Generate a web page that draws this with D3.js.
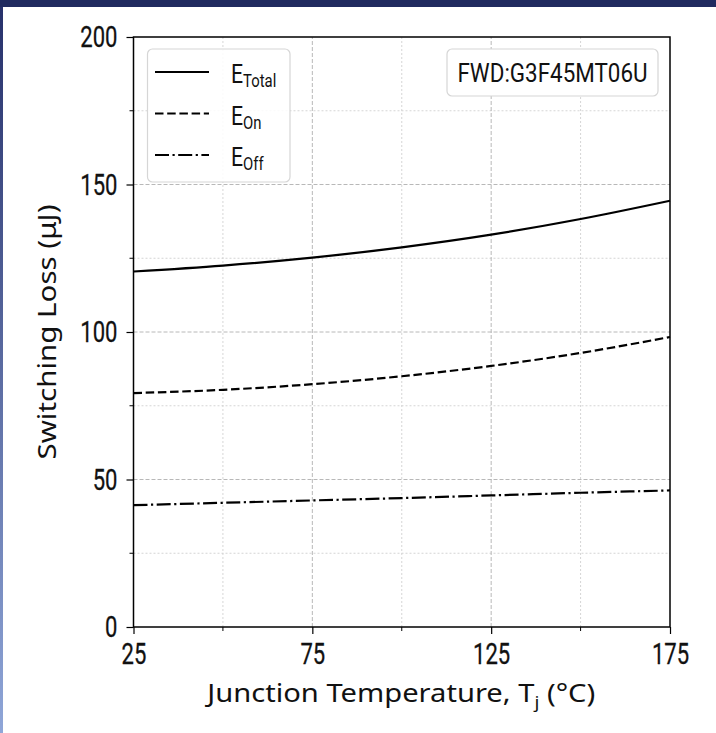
<!DOCTYPE html>
<html>
<head>
<meta charset="utf-8">
<script src="https://cdn.jsdelivr.net/npm/d3@7"></script>
<style>
  html, body { margin: 0; padding: 0; background: #fff; }
  svg { display: block; }
</style>
</head>
<body>
<div id="chart"></div>
<script>
// data
const temps = [25, 50, 75, 100, 125, 150, 175];
const eTotal = [120.5, 122.5, 125.2, 128.7, 133.0, 138.3, 144.5];
const eOn = [79.3, 80.4, 82.3, 85.0, 88.5, 92.9, 98.3];
const eOff = [41.3, 42.1, 42.9, 43.7, 44.6, 45.5, 46.3];
const xTicks = [25, 75, 125, 175];
const xMinor = [50, 100, 150];
const yTicks = [0, 50, 100, 150, 200];
const yMinor = [25, 75, 125, 175];
const legendNames = [["E", "Total"], ["E", "On"], ["E", "Off"]];
const partLabel = "FWD:G3F45MT06U";

const W = 716, H = 733;
const margin = { top: 37, right: 46, bottom: 106, left: 133.5 };
const cond = "Roboto, 'Liberation Sans', sans-serif";
const digitW = 12.4; // width of one digit in the condensed tick font

const svg = d3.select("#chart").append("svg")
  .attr("width", W).attr("height", H);

// frame: dark band on top, thin blue edge on the left
const defs = svg.append("defs");
const grad = defs.append("linearGradient").attr("id", "edge")
  .attr("x1", 0).attr("y1", 0).attr("x2", 0).attr("y2", 1);
grad.append("stop").attr("offset", "0%").attr("stop-color", "#26306a");
grad.append("stop").attr("offset", "100%").attr("stop-color", "#8fa6d8");
svg.append("rect").attr("x", 0).attr("y", 0).attr("width", 3).attr("height", H).attr("fill", "url(#edge)");
svg.append("rect").attr("x", 0).attr("y", 0).attr("width", W).attr("height", 7).attr("fill", "#202a5f");

const x = d3.scaleLinear().domain([25, 175]).range([margin.left, W - margin.right]);
const y = d3.scaleLinear().domain([0, 200]).range([H - margin.bottom, margin.top]);

const g = svg.append("g");

// grid
g.append("g").selectAll("line").data(xMinor).join("line")
  .attr("x1", d => x(d)).attr("x2", d => x(d))
  .attr("y1", y(0)).attr("y2", y(200))
  .attr("stroke", "#d0d0d0").attr("stroke-width", 0.9).attr("stroke-dasharray", "2,2");
g.append("g").selectAll("line").data(yMinor).join("line")
  .attr("y1", d => y(d)).attr("y2", d => y(d))
  .attr("x1", x(25)).attr("x2", x(175))
  .attr("stroke", "#d0d0d0").attr("stroke-width", 0.9).attr("stroke-dasharray", "2,2");
g.append("g").selectAll("line").data(xTicks.slice(1, -1)).join("line")
  .attr("x1", d => x(d)).attr("x2", d => x(d))
  .attr("y1", y(0)).attr("y2", y(200))
  .attr("stroke", "#b0b0b0").attr("stroke-width", 0.9).attr("stroke-dasharray", "4,2");
g.append("g").selectAll("line").data(yTicks.slice(1, -1)).join("line")
  .attr("y1", d => y(d)).attr("y2", d => y(d))
  .attr("x1", x(25)).attr("x2", x(175))
  .attr("stroke", "#b0b0b0").attr("stroke-width", 0.9).attr("stroke-dasharray", "4,2");

// series
const series = [
  { vals: eTotal, dash: null },
  { vals: eOn, dash: "8.5,3.7" },
  { vals: eOff, dash: "14,3.5,2.2,3.5" }
];
const line = d3.line().curve(d3.curveMonotoneX)
  .x((d, i) => x(temps[i])).y(d => y(d));
g.append("g").selectAll("path").data(series).join("path")
  .attr("d", d => line(d.vals))
  .attr("fill", "none").attr("stroke", "#000").attr("stroke-width", 2.2)
  .attr("stroke-dasharray", d => d.dash);

// axes
const xAxis = d3.axisBottom(x).tickValues(xTicks).tickSize(7).tickPadding(9);
const yAxis = d3.axisLeft(y).tickValues(yTicks).tickSize(7).tickPadding(9);

function styleTicks(sel) {
  sel.selectAll(".tick line").attr("stroke", "#000").attr("stroke-width", 1.2);
  sel.selectAll(".tick text")
    .attr("font-family", cond).attr("font-size", 30).attr("fill", "#111")
    .attr("stroke", "#111").attr("stroke-width", 0.3)
    .attr("textLength", d => String(d).length * digitW)
    .attr("lengthAdjust", "spacingAndGlyphs");
}

const gx = svg.append("g").attr("transform", `translate(0,${y(0)})`).call(xAxis);
styleTicks(gx);
gx.append("g").selectAll("line").data(xMinor).join("line")
  .attr("x1", d => x(d)).attr("x2", d => x(d)).attr("y1", 0).attr("y2", 4)
  .attr("stroke", "#000").attr("stroke-width", 1);

const gy = svg.append("g").attr("transform", `translate(${x(25)},0)`).call(yAxis);
styleTicks(gy);
gy.append("g").selectAll("line").data(yMinor).join("line")
  .attr("y1", d => y(d)).attr("y2", d => y(d)).attr("x1", 0).attr("x2", -4)
  .attr("stroke", "#000").attr("stroke-width", 1);
svg.selectAll(".domain").remove();

// box
svg.append("rect")
  .attr("x", x(25)).attr("y", y(200))
  .attr("width", x(175) - x(25)).attr("height", y(0) - y(200))
  .attr("fill", "none").attr("stroke", "#000").attr("stroke-width", 1.5);

// axis labels
const xl = svg.append("text")
  .attr("x", (x(25) + x(175)) / 2 - 0.5).attr("y", 702)
  .attr("text-anchor", "middle")
  .attr("font-family", "'Noto Sans', sans-serif").attr("font-size", 26).attr("fill", "#111")
  .attr("textLength", 388).attr("lengthAdjust", "spacingAndGlyphs");
xl.append("tspan").text("Junction Temperature, T");
xl.append("tspan").attr("dy", 6).attr("font-size", 17).text("j");
xl.append("tspan").attr("dy", -6).text(" (°C)");

svg.append("text")
  .attr("transform", `translate(56,${(y(0) + y(200)) / 2}) rotate(-90)`)
  .attr("text-anchor", "middle")
  .attr("font-family", "'Noto Sans', sans-serif").attr("font-size", 26).attr("fill", "#111")
  .attr("textLength", 255).attr("lengthAdjust", "spacingAndGlyphs")
  .text("Switching Loss (μJ)");

// legend
const lg = svg.append("g");
lg.append("rect").attr("x", 147.5).attr("y", 49).attr("width", 142.5).attr("height", 133)
  .attr("rx", 5).attr("fill", "#fff").attr("fill-opacity", 0.85)
  .attr("stroke", "#d6d6d6").attr("stroke-width", 1.2);
const rows = lg.selectAll("g.row").data(series).join("g").attr("class", "row")
  .attr("transform", (d, i) => `translate(0,${72 + i * 41.5})`);
rows.append("line").attr("x1", 155).attr("x2", 209).attr("y1", 0).attr("y2", 0)
  .attr("stroke", "#000").attr("stroke-width", 2.2)
  .attr("stroke-dasharray", d => d.dash);
const lt = rows.append("text")
  .attr("transform", "translate(231,11) scale(0.85,1)")
  .attr("font-family", cond).attr("font-size", 25).attr("fill", "#111");
lt.append("tspan").text((d, i) => legendNames[i][0]);
lt.append("tspan").attr("dy", 4).attr("font-size", 17.5).text((d, i) => legendNames[i][1]);

// part number box
svg.append("rect").attr("x", 447).attr("y", 49).attr("width", 211).attr("height", 47)
  .attr("rx", 5).attr("fill", "#fff").attr("stroke", "#d6d6d6").attr("stroke-width", 1.2);
svg.append("text").attr("x", 552.5).attr("y", 82)
  .attr("text-anchor", "middle")
  .attr("font-family", cond).attr("font-size", 25).attr("fill", "#111")
  .attr("textLength", 190).attr("lengthAdjust", "spacingAndGlyphs")
  .text(partLabel);
</script>
</body>
</html>
